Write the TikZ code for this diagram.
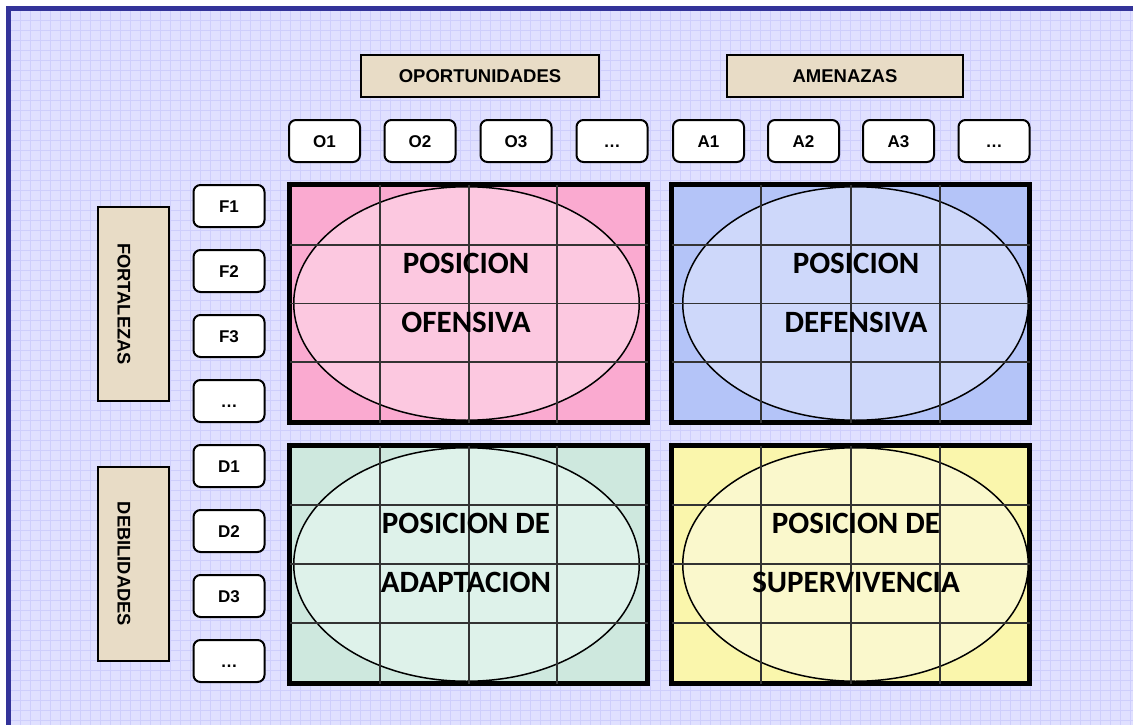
\documentclass[tikz,border=0pt]{standalone}
\usepackage{fontspec}
\setmainfont{Liberation Sans}
\newfontfamily\calib{Carlito}
\usetikzlibrary{positioning,shapes.geometric}

\definecolor{bgblue}{RGB}{224,224,255}
\definecolor{bggrid}{RGB}{206,206,252}
\definecolor{framebl}{RGB}{51,51,153}
\definecolor{tanbox}{RGB}{232,220,198}
\definecolor{pinkout}{RGB}{250,170,208}
\definecolor{pinkin}{RGB}{252,200,224}
\definecolor{blueout}{RGB}{180,196,248}
\definecolor{bluein}{RGB}{206,216,250}
\definecolor{greenout}{RGB}{206,232,222}
\definecolor{greenin}{RGB}{222,242,234}
\definecolor{yellowout}{RGB}{250,246,172}
\definecolor{yellowin}{RGB}{250,248,204}

\tikzset{
  itembox/.style={draw, line width=2pt, rounded corners=7pt, fill=white,
    minimum width=71pt, minimum height=42pt, inner sep=0pt,
    text height=12pt, text depth=0pt,
    font=\bfseries\fontsize{17}{20}\selectfont},
  headbox/.style={draw, line width=2pt, fill=tanbox, minimum height=42pt,
    inner sep=0pt, font=\bfseries\fontsize{18.5}{22}\selectfont},
  sidebox/.style={draw, line width=2pt, fill=tanbox, minimum width=71pt, inner sep=0pt},
  sidetext/.style={rotate=-90, inner sep=0pt, font=\bfseries\fontsize{18.3}{22}\selectfont},
  quad/.style={draw, line width=5pt, minimum width=358pt, minimum height=238pt, inner sep=0pt},
  oval/.style={draw, ellipse, line width=1.5pt, minimum width=345.5pt,
    minimum height=233.5pt, inner sep=0pt},
  cellline/.style={black!80, line width=1.3pt},
  bigtext/.style={align=center, inner sep=0pt,
    font=\calib\bfseries\fontsize{31}{59}\selectfont}
}

\begin{document}
\begin{tikzpicture}[x=1pt,y=-1pt]
	\useasboundingbox (0,0) rectangle (1133,725);
	% background sheet
	\fill[white] (0,0) rectangle (1133,725);
	\fill[bgblue] (6,6) rectangle (1133,725);
	\draw[bggrid, line width=0.5pt, step=10pt] (11,11) grid (1133,725);
	\draw[framebl, line width=5pt] (8.5,725) -- (8.5,8.5) -- (1133,8.5);

	% headers
	\node[headbox, minimum width=238pt] (opor) at (480,76) {OPORTUNIDADES};
	\node[headbox, minimum width=236pt] (amen) at (845,76) {AMENAZAS};
	\node[sidebox, minimum height=194pt] (fort) at (133.5,304) {};
	\node[sidetext] (fortt) at (124,304) {FORTALEZAS};
	\node[sidebox, minimum height=194pt] (debi) at (133.5,564) {};
	\node[sidetext] (debit) at (124,564) {DEBILIDADES};

	% column items
	\node[itembox] (o1) at (324.5,141) {O1};
	\node[itembox] (o2) at (420,141) {O2};
	\node[itembox] (o3) at (516,141) {O3};
	\node[itembox] (on) at (612,141) {…};
	\node[itembox] (a1) at (708.5,141) {A1};
	\node[itembox] (a2) at (803.5,141) {A2};
	\node[itembox] (a3) at (898.5,141) {A3};
	\node[itembox] (an) at (994,141) {…};

	% row items
	\node[itembox] (f1) at (229,206) {F1};
	\node[itembox] (f2) at (229,271) {F2};
	\node[itembox] (f3) at (229,336) {F3};
	\node[itembox] (fn) at (229,401) {…};
	\node[itembox] (d1) at (229,466) {D1};
	\node[itembox] (d2) at (229,531) {D2};
	\node[itembox] (d3) at (229,596) {D3};
	\node[itembox] (dn) at (229,661) {…};

	% quadrants
	\node[quad, fill=pinkout] (qof) at (468.5,303.5) {};
	\node[quad, fill=blueout] (qdf) at (850.5,303.5) {};
	\node[quad, fill=greenout] (qad) at (468.5,564.5) {};
	\node[quad, fill=yellowout] (qsu) at (850.5,564.5) {};
	\node[oval, fill=pinkin] (eof) at (466.5,303.5) {};
	\node[oval, fill=bluein] (edf) at (855.5,303.5) {};
	\node[oval, fill=greenin] (ead) at (466.5,564.5) {};
	\node[oval, fill=yellowin] (esu) at (855.5,564.5) {};
	\foreach \x in {380,469,557,761,851,940}
		\draw[cellline] (\x,184.5) -- (\x,422.5) (\x,445.5) -- (\x,683.5);
	\foreach \y in {245,303.5,362,505,564,623}
		\draw[cellline] (289.5,\y) -- (647.5,\y) (671.5,\y) -- (1029.5,\y);

	\node[bigtext] (tof) at (466,292.5) {POSICION\\OFENSIVA};
	\node[bigtext] (tdf) at (856,292.5) {POSICION\\DEFENSIVA};
	\node[bigtext] (tad) at (466,552.5) {POSICION DE\\ADAPTACION};
	\node[bigtext] (tsu) at (856,552.5) {POSICION DE\\SUPERVIVENCIA};
\end{tikzpicture}
\end{document}
